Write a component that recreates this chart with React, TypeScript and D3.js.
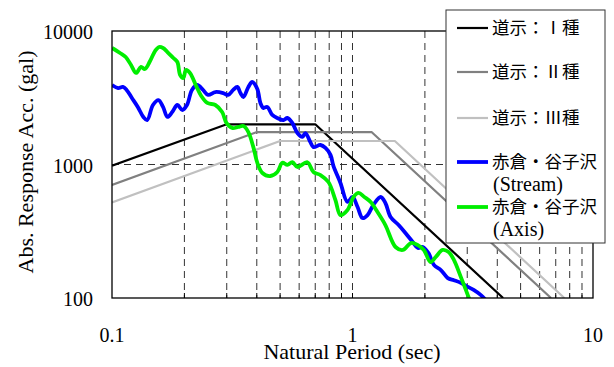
import * as d3 from 'd3';
import React, { useEffect, useRef } from 'react';

// design spectra (corner points, straight lines in log-log)
const type1Period = [0.1, 0.3, 0.7, 4.23];
const type1Acc = [980, 2000, 2000, 100];
const type2Period = [0.1, 0.4, 1.2, 6.69];
const type2Acc = [702, 1750, 1750, 100];
const type3Period = [0.1, 0.5, 1.5, 7.6];
const type3Acc = [520, 1500, 1500, 100];

// 赤倉・谷子沢 (Stream)
const streamPeriod = [0.1, 0.106, 0.111, 0.115, 0.121, 0.128, 0.135, 0.14, 0.148, 0.156, 0.163, 0.17, 0.178, 0.187, 0.196, 0.205, 0.215, 0.226, 0.239, 0.251, 0.269, 0.29, 0.304, 0.319, 0.332, 0.342, 0.352, 0.369, 0.383, 0.402, 0.414, 0.426, 0.442, 0.464, 0.487, 0.516, 0.536, 0.562, 0.59, 0.619, 0.637, 0.668, 0.688, 0.736, 0.772, 0.81, 0.833, 0.891, 0.953, 1.0, 1.05, 1.1, 1.155, 1.22, 1.31, 1.37, 1.44, 1.555, 1.66, 1.78, 1.87, 1.96, 2.07, 2.18, 2.33, 2.49, 2.64, 2.82, 3.02, 3.19, 3.42, 3.58];
const streamAcc = [3940, 3740, 3810, 3620, 3150, 2700, 2270, 2150, 2790, 3040, 2700, 2270, 2470, 2790, 2560, 2790, 3620, 3940, 3620, 3320, 3490, 3430, 3320, 3620, 3810, 3430, 3200, 3810, 4150, 3680, 2890, 2650, 2700, 2350, 2230, 2150, 2230, 2050, 1720, 1610, 1720, 1470, 1350, 1400, 1330, 1180, 975, 727, 524, 571, 480, 397, 418, 497, 571, 515, 404, 352, 307, 263, 237, 241, 217, 177, 162, 141, 136, 130, 121, 115, 105, 96.6];

// 赤倉・谷子沢 (Axis)
const axisPeriod = [0.1, 0.108, 0.114, 0.12, 0.126, 0.132, 0.137, 0.144, 0.151, 0.157, 0.163, 0.17, 0.18, 0.187, 0.192, 0.198, 0.203, 0.211, 0.224, 0.235, 0.249, 0.269, 0.287, 0.299, 0.316, 0.335, 0.352, 0.369, 0.387, 0.402, 0.422, 0.455, 0.487, 0.511, 0.536, 0.562, 0.59, 0.649, 0.688, 0.736, 0.794, 0.849, 0.891, 0.953, 1.01, 1.06, 1.12, 1.19, 1.27, 1.37, 1.51, 1.62, 1.75, 1.87, 1.98, 2.11, 2.22, 2.37, 2.51, 2.64, 2.82, 2.96, 3.07];
const axisAcc = [7460, 6840, 6390, 5560, 4850, 5380, 5190, 5960, 7080, 7590, 7460, 6960, 6280, 5860, 4680, 4450, 5100, 4850, 3870, 3260, 2890, 2790, 2470, 2050, 1880, 1910, 1940, 1750, 1350, 1030, 864, 820, 879, 1030, 992, 1040, 958, 1040, 879, 834, 739, 542, 418, 456, 571, 612, 571, 524, 441, 352, 241, 229, 258, 249, 229, 186, 203, 229, 221, 193, 144, 115, 96.6];

const seriesNames = ['道示：Ⅰ種', '道示：Ⅱ種', '道示：Ⅲ種', '赤倉・谷子沢', '赤倉・谷子沢'];
const seriesSub = ['', '', '', '(Stream)', '(Axis)'];
const seriesColors = ['#000000', '#808080', '#c0c0c0', '#0000ff', '#00ee00'];
const seriesWidths = [2.2, 2.2, 2.2, 3.8, 3.8];

const gridPeriods = [0.2, 0.3, 0.4, 0.5, 0.6, 0.7, 0.8, 0.9, 1, 2, 3, 4, 5, 6, 7, 8, 9];
const xTicks = [0.1, 1, 10];
const yTicks = [100, 1000, 10000];

const FONT = "'Liberation Serif', 'Times New Roman', 'Noto Sans CJK JP', serif";

export default function App() {
    const ref = useRef<any>();

    useEffect(() => {
        const svg = d3.select<any, any>(ref.current);
        svg.selectAll('*').remove();

        const dim = { left: 112, right: 593, top: 31, bottom: 298 };
        const xScale = d3.scaleLog().domain([0.1, 10]).range([dim.left, dim.right]);
        const yScale = d3.scaleLog().domain([100, 10000]).range([dim.bottom, dim.top]);

        svg.append('rect').attr('width', 614).attr('height', 367).attr('fill', '#fff');

        svg.append('defs').append('clipPath').attr('id', 'plotClip')
            .append('rect')
            .attr('x', dim.left).attr('y', dim.top)
            .attr('width', dim.right - dim.left).attr('height', dim.bottom - dim.top);

        //grid
        const grid = svg.append('g').attr('class', 'grid');
        grid.selectAll('.vgrid').data(gridPeriods).join('line')
            .attr('x1', (d) => xScale(d)).attr('x2', (d) => xScale(d))
            .attr('y1', dim.top).attr('y2', dim.bottom)
            .attr('stroke', '#333').attr('stroke-width', 1)
            .attr('stroke-dasharray', '7,5');
        grid.selectAll('.hgrid').data([1000]).join('line')
            .attr('x1', dim.left).attr('x2', dim.right)
            .attr('y1', (d) => yScale(d)).attr('y2', (d) => yScale(d))
            .attr('stroke', '#333').attr('stroke-width', 1)
            .attr('stroke-dasharray', '7,5');
        // small ticks on bottom axis
        grid.selectAll('.tick').data(gridPeriods).join('line')
            .attr('x1', (d) => xScale(d)).attr('x2', (d) => xScale(d))
            .attr('y1', dim.bottom - 5).attr('y2', dim.bottom)
            .attr('stroke', '#000').attr('stroke-width', 1);

        //series
        const series = [
            d3.zip(type1Period, type1Acc),
            d3.zip(type2Period, type2Acc),
            d3.zip(type3Period, type3Acc),
            d3.zip(streamPeriod, streamAcc),
            d3.zip(axisPeriod, axisAcc),
        ];
        const straight = d3.line<any>().x((d) => xScale(d[0])).y((d) => yScale(d[1]));
        const smooth = d3.line<any>().x((d) => xScale(d[0])).y((d) => yScale(d[1])).curve(d3.curveCatmullRom);
        const dataArea = svg.append('g').attr('clip-path', 'url(#plotClip)');
        series.forEach((s, i) => {
            dataArea.append('path')
                .attr('d', i < 3 ? straight(s) : smooth(s))
                .attr('fill', 'none')
                .attr('stroke', seriesColors[i])
                .attr('stroke-width', seriesWidths[i])
                .attr('stroke-linejoin', 'round');
        });

        //frame
        svg.append('rect')
            .attr('x', dim.left).attr('y', dim.top)
            .attr('width', dim.right - dim.left).attr('height', dim.bottom - dim.top)
            .attr('fill', 'none').attr('stroke', '#000').attr('stroke-width', 1.3);

        //tick labels
        svg.selectAll('.xlabel').data(xTicks).join('text')
            .attr('x', (d) => xScale(d)).attr('y', 342)
            .attr('text-anchor', 'middle')
            .attr('font-family', FONT).attr('font-size', 20)
            .text((d) => String(d));
        svg.selectAll('.ylabel').data(yTicks).join('text')
            .attr('x', 93).attr('y', (d) => yScale(d) + 8)
            .attr('text-anchor', 'end')
            .attr('font-family', FONT).attr('font-size', 20)
            .text((d) => String(d));

        //axis titles
        svg.append('text')
            .attr('x', 352).attr('y', 359)
            .attr('text-anchor', 'middle')
            .attr('font-family', FONT).attr('font-size', 22)
            .text('Natural Period (sec)');
        svg.append('text')
            .attr('transform', 'translate(33,162) rotate(-90)')
            .attr('text-anchor', 'middle')
            .attr('font-family', FONT).attr('font-size', 22)
            .text('Abs. Response Acc. (gal)');

        //legend
        const legend = svg.append('g');
        legend.append('rect')
            .attr('x', 446).attr('y', 10).attr('width', 159).attr('height', 233)
            .attr('fill', '#fff').attr('stroke', '#333').attr('stroke-width', 1);
        const rowY = [28, 72, 118, 162, 207];
        seriesNames.forEach((name, i) => {
            legend.append('line')
                .attr('x1', 457).attr('x2', 488)
                .attr('y1', rowY[i]).attr('y2', rowY[i])
                .attr('stroke', seriesColors[i]).attr('stroke-width', seriesWidths[i]);
            legend.append('text')
                .attr('x', 492).attr('y', rowY[i] + 6)
                .attr('font-family', FONT).attr('font-size', 17.5)
                .text(name);
            if (seriesSub[i]) {
                legend.append('text')
                    .attr('x', 493).attr('y', rowY[i] + 29)
                    .attr('font-family', FONT).attr('font-size', 20)
                    .text(seriesSub[i]);
            }
        });
    }, []);

    return (
        <svg ref={ref} width={614} height={367} style={{ position: 'absolute', left: 0, top: 0 }}></svg>
    );
}
